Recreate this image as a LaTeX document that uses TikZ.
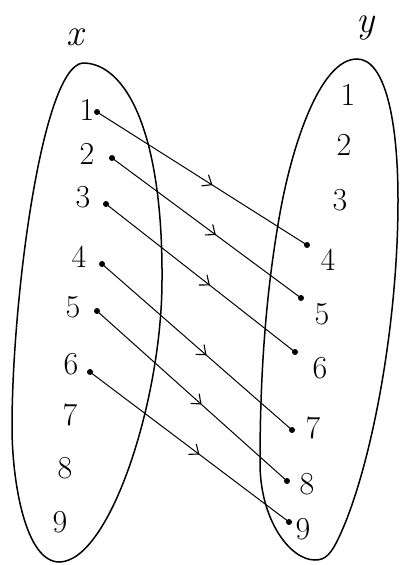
\documentclass[tikz,border=0pt]{standalone}
\usepackage{fontspec}
\setmainfont{Latin Modern Roman}
\usetikzlibrary{arrows.meta,decorations.markings}
\begin{document}
\begin{tikzpicture}[x=1pt,y=-1pt,
  oval/.style={line width=1.5pt},
  dot/.style={circle,fill=black,inner sep=0pt,minimum size=6pt},
  num/.style={font=\fontsize{32}{32}\selectfont,inner sep=0pt},
  setname/.style={font=\fontsize{38}{38}\selectfont\itshape,inner sep=0pt},
  maparrow/.style={line width=1pt,
    postaction={decorate,decoration={markings,
      mark=at position 0.55 with {\arrow{Straight Barb[length=8pt,width=13pt,line width=1.1pt]}}}}}]
\useasboundingbox (0,0) rectangle (399,565);
% left set
\draw[oval] (83,63) .. controls (125,63) and (163,130) .. (162,280)
  .. controls (162,400) and (110,560) .. (60,562)
  .. controls (25,563) and (12,480) .. (12,427)
  .. controls (12,300) and (42,66) .. (83,63) -- cycle;
% right set
\draw[oval] (357,59) .. controls (385,59) and (398,120) .. (398,200)
  .. controls (398,330) and (370,470) .. (340,535)
  .. controls (331,555) and (325,560) .. (315,560)
  .. controls (290,560) and (260,520) .. (260,463)
  .. controls (260,360) and (268,280) .. (280,213)
  .. controls (292,146) and (320,59) .. (357,59) -- cycle;
\node[setname] (X) at (75,37) {x};
\node[setname] (Y) at (366,28) {y};
% left labels and dots
\node[num] (l1) at (87,110) {1};
\node[num] (l2) at (87,154) {2};
\node[num] (l3) at (83,197) {3};
\node[num] (l4) at (79,257) {4};
\node[num] (l5) at (73,307) {5};
\node[num] (l6) at (71,364) {6};
\node[num] (l7) at (70,415) {7};
\node[num] (l8) at (65,468) {8};
\node[num] (l9) at (60,522) {9};
\node[dot] (a1) at (97,112) {};
\node[dot] (a2) at (112,158) {};
\node[dot] (a3) at (106,204) {};
\node[dot] (a4) at (102,264) {};
\node[dot] (a5) at (97,311) {};
\node[dot] (a6) at (90,372) {};
% right labels and dots
\node[num] (r1) at (348,95) {1};
\node[num] (r2) at (344,145) {2};
\node[num] (r3) at (340,200) {3};
\node[num] (r4) at (328,260) {4};
\node[num] (r5) at (322,314) {5};
\node[num] (r6) at (320,368) {6};
\node[num] (r7) at (313,428) {7};
\node[num] (r8) at (307,484) {8};
\node[num] (r9) at (303,529) {9};
\node[dot] (b4) at (307,245) {};
\node[dot] (b5) at (301,298) {};
\node[dot] (b6) at (295,352) {};
\node[dot] (b7) at (292,430) {};
\node[dot] (b8) at (287,481) {};
\node[dot] (b9) at (289,522) {};
% mappings
\draw[maparrow] (a1.center) -- (b4.center);
\draw[maparrow] (a2.center) -- (b5.center);
\draw[maparrow] (a3.center) -- (b6.center);
\draw[maparrow] (a4.center) -- (b7.center);
\draw[maparrow] (a5.center) -- (b8.center);
\draw[maparrow] (a6.center) -- (b9.center);
\end{tikzpicture}
\end{document}
